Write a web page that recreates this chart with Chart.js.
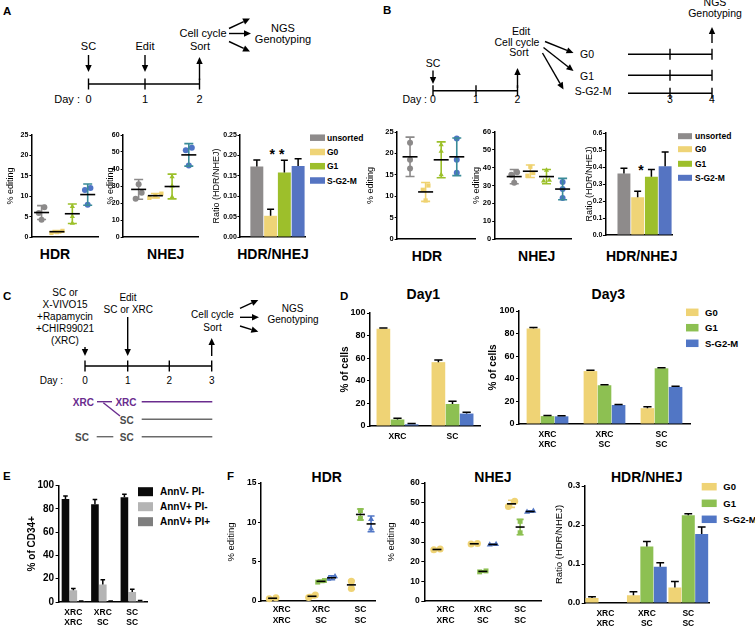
<!DOCTYPE html>
<html><head><meta charset="utf-8">
<script src="https://cdn.jsdelivr.net/npm/chart.js"></script>
<style>
html,body{margin:0;padding:0;background:#fff;}
#fig{position:relative;width:755px;height:627px;overflow:hidden;background:#fff;}
canvas{position:absolute;}
</style></head>
<body><div id="fig"><svg id="sch" width="755" height="627" style="position:absolute;left:0;top:0"></svg></div>
<script>
// ================= DATA =================
const abGroups = ['unsorted', 'G0', 'G1', 'S-G2-M'];
// Panel A (Day 2 sort)
const aHdrPoints = [[7.3, 5.9, 4.2], [1.5, 1.2, 1.0], [7.5, 5.0, 3.4], [12.0, 11.5, 7.9]];
const aHdrMean = [6.0, 1.3, 5.7, 10.4];
const aHdrSd = [1.7, 0.3, 2.4, 2.6];
const aNhejPoints = [[31.0, 26.0, 22.5], [25.5, 24.0, 23.0], [35.5, 30.0, 23.5], [52.5, 51.0, 42.0]];
const aNhejMean = [28.0, 24.3, 29.7, 48.3];
const aNhejSd = [5.8, 1.3, 7.3, 6.6];
const aRatio = [0.173, 0.052, 0.158, 0.174];
const aRatioSd = [0.016, 0.016, 0.030, 0.018];
// Panel B (sort then edit)
const bHdrPoints = [[22.5, 18.5, 16.5], [12.5, 11.5, 9.0], [22.0, 20.5, 15.0], [23.5, 18.5, 15.5]];
const bHdrMean = [19.2, 11.0, 18.5, 19.2];
const bHdrSd = [4.6, 2.2, 4.2, 4.4];
const bNhejPoints = [[37.5, 36.0, 31.5], [40.5, 37.0, 35.5], [38.5, 33.0, 32.5], [32.0, 28.0, 23.0]];
const bNhejMean = [35.0, 38.0, 35.0, 28.0];
const bNhejSd = [4.0, 3.5, 4.0, 6.0];
const bRatio = [0.362, 0.222, 0.343, 0.405];
const bRatioSd = [0.031, 0.036, 0.042, 0.083];
// Panel D
const phases = ['G0', 'G1', 'S-G2-M'];
const dDay1Cats = ['XRC', 'SC'];
const dDay1G0 = [86.0, 56.5], dDay1G0Sd = [0.8, 2.0];
const dDay1G1 = [5.8, 19.5], dDay1G1Sd = [1.0, 2.5];
const dDay1S = [1.5, 11.0], dDay1SSd = [0.7, 1.2];
const dDay3Cats = [['XRC', 'XRC'], ['XRC', 'SC'], ['SC', 'SC']];
const dDay3G0 = [84.5, 46.8, 14.0], dDay3G0Sd = [1.0, 0.7, 1.2];
const dDay3G1 = [7.0, 34.3, 49.3], dDay3G1Sd = [0.5, 0.5, 0.5];
const dDay3S = [6.8, 16.8, 32.8], dDay3SSd = [0.5, 0.5, 0.7];
// Panel E
const eCats = [['XRC', 'XRC'], ['XRC', 'SC'], ['SC', 'SC']];
const eSeries = ['AnnV- PI-', 'AnnV+ PI-', 'AnnV+ PI+'];
const eLive = [88.5, 84.0, 90.0], eLiveSd = [2.5, 4.0, 2.5];
const eEarly = [10.0, 15.0, 8.5], eEarlySd = [1.5, 4.0, 2.5];
const eLate = [0.6, 0.5, 0.8], eLateSd = [0.3, 0.3, 0.4];
// Panel F
const fCats = [['XRC', 'XRC'], ['XRC', 'SC'], ['SC', 'SC']];
const fHdrG0Pts = [[0.3, 0.4], [0.45, 0.75], [1.6, 2.5]];
const fHdrG1Pts = [[], [2.4, 2.6], [11.5, 10.5]];
const fHdrSPts = [[], [2.8, 3.1], [10.4, 9.2]];
const fHdrG0Mean = [0.35, 0.6, 2.05], fHdrG0Sd = [0.07, 0.22, 0.55];
const fHdrG1Mean = [null, 2.5, 11.0], fHdrG1Sd = [null, 0.15, 0.7];
const fHdrSMean = [null, 2.95, 9.8], fHdrSSd = [null, 0.25, 1.0];
const fNhejG0Pts = [[26.0, 26.5], [29.0, 29.2], [50.7, 48.1]];
const fNhejG1Pts = [[], [14.8, 15.3], [40.5, 34.7]];
const fNhejSPts = [[], [28.6, 28.9], [45.2, 45.8]];
const fNhejG0Mean = [26.2, 29.1, 49.4], fNhejG0Sd = [0.35, 0.2, 1.8];
const fNhejG1Mean = [null, 15.05, 37.6], fNhejG1Sd = [null, 0.35, 3.9];
const fNhejSMean = [null, 28.75, 45.5], fNhejSSd = [null, 0.2, 0.4];
const fRatioG0 = [0.013, 0.020, 0.040], fRatioG0Sd = [0.003, 0.009, 0.015];
const fRatioG1 = [null, 0.145, 0.225], fRatioG1Sd = [null, 0.013, 0.004];
const fRatioS = [null, 0.093, 0.177], fRatioSSd = [null, 0.010, 0.018];

// ================= STYLE =================
const FONT = "'Liberation Sans', Arial, Helvetica, sans-serif";
Chart.defaults.font.family = FONT;
Chart.defaults.color = '#000';
const abPointColors = ['#8c8a8a', '#efd270', '#9cc02a', '#4f74c6'];
const abErrColors = ['#8c8a8a', '#efd270', '#9cc02a', '#3a8b98'];
const abPointStyles = ['circle', 'rect', 'triangle', 'circle'];
const abBarColors = ['#8e8b8b', '#efd477', '#9dbf2b', '#5574c2'];
const phaseColors = ['#efd375', '#8dc052', '#5176c5'];
const fPointStyles = ['circle', 'rect', 'triangle'];
const eColors = ['#0a0a0a', '#b4b4b4', '#7e7e7e'];

const fig = document.getElementById('fig');

function canvasFor(box, titleSize) {
  box.yw = box.l - box.tx + 0.6 * titleSize;
  const W = Math.round(box.r - box.l + box.yw + box.pr);
  const H = Math.round(box.b - box.t + box.pt + box.xh);
  const c = document.createElement('canvas');
  c.width = W; c.height = H;
  c.style.left = (box.l - box.yw) + 'px';
  c.style.top = (box.t - box.pt) + 'px';
  c.style.width = W + 'px'; c.style.height = H + 'px';
  fig.appendChild(c);
  return c;
}

function yScale(box, o) {
  return {
    min: 0, max: o.ymax,
    ticks: { stepSize: o.ystep, font: { size: o.tickSize, weight: 'bold' }, color: '#000', padding: o.tickPad != null ? o.tickPad : 1.5,
      callback: v => (o.dec != null ? Number(v).toFixed(o.dec) : v) },
    grid: { display: true, drawOnChartArea: false, drawTicks: true, tickLength: o.tickLen || 3, color: '#000', lineWidth: 1 },
    border: { display: true, color: '#000', width: 1.5 },
    title: { display: true, text: o.ytitle, font: { size: o.titleSize, weight: o.titleWeight || 'normal' }, color: '#000', padding: 0 },
    afterFit: s => { s.width = box.yw; }
  };
}

function catXScale(box, labels, o) {
  return {
    type: 'category', labels, offset: true,
    grid: { display: false, drawTicks: false },
    border: { display: true, color: '#000', width: 1.5 },
    ticks: { font: { size: o.catSize || 8, weight: 'bold', lineHeight: 1.25 }, color: '#000', padding: o.catPad || 4, maxRotation: 0, autoSkip: false },
    afterFit: s => { s.height = box.xh; }
  };
}

function linXScale(box, o) {
  const sc = {
    type: 'linear', min: o.xmin, max: o.xmax, offset: false,
    grid: { display: false, drawTicks: false },
    border: { display: true, color: '#000', width: 1.5 },
    ticks: { display: false },
    afterFit: s => { s.height = box.xh; }
  };
  if (o.xLabels) {
    sc.ticks = { display: true, font: { size: 8.5, weight: 'bold', lineHeight: 1.2 }, color: '#000', padding: 4, maxRotation: 0, autoSkip: false,
      callback: v => o.xLabels[Math.round(v) - 1] };
    sc.afterBuildTicks = s => { s.ticks = o.xLabels.map((_, i) => ({ value: i + 1 })); };
  }
  return sc;
}

function baseOptions(box, xs, ys) {
  return {
    responsive: false, animation: false, devicePixelRatio: 1, events: [],
    layout: { padding: { top: box.pt, right: box.pr, left: 0, bottom: 0 } },
    plugins: { legend: { display: false }, tooltip: { enabled: false }, title: { display: false } },
    scales: { x: xs, y: ys }
  };
}

// horizontal spreading of replicate points that would overlap (beeswarm-like)
function spread(vals, thresh, dx) {
  const off = vals.map(() => 0);
  if (!vals.length) return off;
  const idx = vals.map((v, i) => i).sort((a, b) => vals[a] - vals[b]);
  let cl = [idx[0]];
  const flush = () => cl.forEach((id, j) => { off[id] = (j - (cl.length - 1) / 2) * dx; });
  for (let k = 1; k < idx.length; k++) {
    if (vals[idx[k]] - vals[idx[k - 1]] < thresh) cl.push(idx[k]);
    else { flush(); cl = [idx[k]]; }
  }
  flush();
  return off;
}

function statsPlugin(stats, o) {
  return {
    id: 'stats',
    afterDatasetsDraw(chart) {
      const { ctx, scales: { x, y } } = chart;
      ctx.save();
      ctx.lineWidth = 1.6;
      stats.forEach(g => {
        const px = x.getPixelForValue(g.x);
        const lo = y.getPixelForValue(g.mean - g.sd), hi = y.getPixelForValue(g.mean + g.sd);
        const m = y.getPixelForValue(g.mean);
        ctx.strokeStyle = g.err;
        ctx.beginPath();
        ctx.moveTo(px, lo); ctx.lineTo(px, hi);
        ctx.moveTo(px - o.cap, lo); ctx.lineTo(px + o.cap, lo);
        ctx.moveTo(px - o.cap, hi); ctx.lineTo(px + o.cap, hi);
        ctx.stroke();
        ctx.strokeStyle = '#000';
        ctx.beginPath(); ctx.moveTo(px - o.mw, m); ctx.lineTo(px + o.mw, m); ctx.stroke();
      });
      ctx.restore();
    }
  };
}

function barErrPlugin(capFrac) {
  return {
    id: 'barerr',
    afterDatasetsDraw(chart) {
      const { ctx, scales: { y } } = chart;
      ctx.save();
      ctx.lineWidth = 1.5; ctx.strokeStyle = '#000';
      chart.data.datasets.forEach((ds, di) => {
        const meta = chart.getDatasetMeta(di);
        meta.data.forEach((bar, i) => {
          const raw = ds.data[i];
          const v = (raw && typeof raw === 'object') ? raw.y : raw;
          const sd = ds.sd ? ds.sd[i] : null;
          if (v == null || sd == null) return;
          const top = y.getPixelForValue(v + sd);
          const cap = bar.width * capFrac;
          ctx.beginPath();
          ctx.moveTo(bar.x, bar.y); ctx.lineTo(bar.x, top);
          ctx.moveTo(bar.x - cap, top); ctx.lineTo(bar.x + cap, top);
          ctx.stroke();
        });
      });
      ctx.restore();
    }
  };
}

function makeScatter(box, o) {
  const c = canvasFor(box, o.titleSize);
  const thresh = o.sepPx * o.ymax / (box.b - box.t);
  const stats = [];
  const datasets = o.series.map(s => {
    const data = [];
    s.groups.forEach(g => {
      const off = spread(g.pts, thresh, o.dx);
      g.pts.forEach((v, k) => data.push({ x: g.x + off[k], y: v }));
      if (g.mean != null) stats.push({ x: g.x, mean: g.mean, sd: g.sd, err: s.err });
    });
    return { label: s.label, data, pointStyle: s.style, pointRadius: o.radius, pointBackgroundColor: s.color,
      pointBorderColor: s.color, pointBorderWidth: 0, showLine: false, clip: false };
  });
  return new Chart(c, {
    type: 'scatter', data: { datasets },
    options: baseOptions(box, linXScale(box, o), yScale(box, o)),
    plugins: [statsPlugin(stats, o)]
  });
}

function makeBars(box, o, xs, datasets) {
  const c = canvasFor(box, o.titleSize);
  return new Chart(c, {
    type: 'bar', data: { datasets, labels: o.labels },
    options: baseOptions(box, xs, yScale(box, o)),
    plugins: [barErrPlugin(o.capFrac || 0.28)]
  });
}

// ================= SVG (schematics, titles, legends) =================
const NS = 'http://www.w3.org/2000/svg';
const svg = document.getElementById('sch');
function el(tag, attrs, text) {
  const e = document.createElementNS(NS, tag);
  for (const k in attrs) e.setAttribute(k, attrs[k]);
  if (text != null) e.textContent = text;
  svg.appendChild(e); return e;
}
function txt(x, y, s, o = {}) {
  return el('text', { x, y, 'font-size': o.size || 10, 'font-weight': o.weight || 'normal',
    'text-anchor': o.anchor || 'middle', fill: o.fill || '#000', 'font-family': FONT }, s);
}
function line(x1, y1, x2, y2, o = {}) {
  el('line', { x1, y1, x2, y2, stroke: o.c || '#000', 'stroke-width': o.w || 1.4 });
}
function arrow(x1, y1, x2, y2, o = {}) {
  const L = o.L || 7, hw = o.hw || 3.2;
  const dx = x2 - x1, dy = y2 - y1, d = Math.hypot(dx, dy), ux = dx / d, uy = dy / d;
  const bx = x2 - ux * L, by = y2 - uy * L;
  line(x1, y1, bx, by, o);
  el('polygon', { points: `${x2},${y2} ${bx - uy * hw},${by + ux * hw} ${bx + uy * hw},${by - ux * hw}`, fill: o.c || '#000' });
}
function timeline(x0, x1, y, ticks) {
  line(x0, y, x1, y, { w: 1.6 });
  ticks.forEach(t => line(t, y - 5.5, t, y + 5.5, { w: 1.4 }));
}
function legend(x, ys, names, colors, o) {
  names.forEach((n, i) => {
    el('rect', { x, y: ys[i] - o.h / 2, width: o.w, height: o.h, fill: colors[i] });
    txt(x + o.tx, ys[i] + 0.36 * o.size, n, { size: o.size, weight: 'bold', anchor: 'start' });
  });
}

// panel letters
[['A', 3, 15], ['B', 383, 13.5], ['C', 3, 300], ['D', 340, 300], ['E', 3, 479.5], ['F', 227, 479.5]]
  .forEach(([s, x, y]) => txt(x, y, s, { size: 11.5, weight: 'bold', anchor: 'start' }));

// --- A schematic
{
  const S = { size: 11 };
  timeline(88.5, 199.5, 84, [88.5, 145, 199.5]);
  txt(80, 103, 'Day :', { size: 11, anchor: 'end' });
  txt(88.5, 103, '0', S); txt(145, 103, '1', S); txt(199.5, 103, '2', S);
  txt(88.5, 49.5, 'SC', S); arrow(88.5, 55, 88.5, 72);
  txt(145, 49.5, 'Edit', S); arrow(145, 55, 145, 72);
  txt(203, 37, 'Cell cycle', S); txt(200, 49.5, 'Sort', S); arrow(199.5, 80, 199.5, 57);
  arrow(229, 28.5, 250, 18.5); arrow(229, 33.5, 251, 33.5); arrow(229, 41.5, 250, 51.5);
  txt(283, 31.5, 'NGS', S); txt(283, 42.5, 'Genotyping', S);
}
// --- B schematic
{
  const S = { size: 10.5 };
  timeline(433, 517.5, 90.7, [433, 476, 517.5]);
  txt(427, 102.7, 'Day :', { size: 10.5, anchor: 'end' });
  txt(433, 102.7, '0', S); txt(476, 102.7, '1', S); txt(517.5, 102.7, '2', S);
  txt(433, 67, 'SC', S); arrow(433, 70.5, 433, 84);
  txt(521, 35, 'Edit', S); txt(517, 45.5, 'Cell cycle', S); txt(519, 56.3, 'Sort', S);
  arrow(517.5, 88, 517.5, 68);
  arrow(545, 41.5, 573.5, 53); arrow(543.5, 47.5, 573.5, 71); arrow(542.5, 53, 563.5, 89.5);
  txt(587, 58.3, 'G0', S); txt(587, 80, 'G1', S); txt(593, 95, 'S-G2-M', S);
  [54.3, 75.3, 93.3].forEach(y => { line(628, y, 712, y, { w: 1.6 }); line(670, y - 5.5, 670, y + 5.5); line(712, y - 5.5, 712, y + 5.5); });
  txt(670, 102.7, '3', S); txt(712, 102.7, '4', S);
  txt(715, 5.5, 'NGS', S); txt(715, 17, 'Genotyping', S); arrow(712, 43, 712, 27);
}
// --- C schematic
{
  const S = { size: 10 };
  txt(65, 296, 'SC or', S); txt(65, 308.3, 'X-VIVO15', S); txt(65, 319.8, '+Rapamycin', S);
  txt(65, 332.3, '+CHIR99021', S); txt(65, 344.3, '(XRC)', S);
  arrow(85, 347, 85, 356);
  txt(128, 300.7, 'Edit', S); txt(128.3, 313.3, 'SC or XRC', S); arrow(127.7, 317, 127.7, 356);
  timeline(85, 211.7, 366, [85, 127.7, 169.3, 211.7]);
  txt(63, 384, 'Day :', { size: 10, anchor: 'end' });
  txt(85, 384, '0', S); txt(127.7, 384, '1', S); txt(169.3, 384, '2', S); txt(211.7, 384, '3', S);
  txt(212.5, 317.7, 'Cell cycle', S); txt(212.5, 330.7, 'Sort', S); arrow(211.7, 356, 211.7, 338);
  arrow(240, 308.3, 258.3, 300); arrow(240, 317.3, 259, 317.3); arrow(240, 326, 258.3, 331.7);
  txt(292.5, 311.7, 'NGS', S); txt(293, 322.5, 'Genotyping', S);
  const P = '#6a2c8e', G = '#4a4a4a', GL = '#6a6a6a';
  txt(83.3, 406, 'XRC', { size: 10, weight: 'bold', fill: P });
  line(97, 401.7, 112, 401.7, { c: P }); line(103.3, 402.7, 120, 416, { c: P });
  txt(126, 406, 'XRC', { size: 10, weight: 'bold', fill: P });
  line(141.7, 401.7, 212.3, 401.7, { c: P });
  txt(126.7, 424, 'SC', { size: 10, weight: 'bold', fill: G });
  line(141.7, 419.3, 212.3, 419.3, { c: GL });
  txt(82, 440.7, 'SC', { size: 10, weight: 'bold', fill: G });
  line(96.7, 436.7, 113.3, 436.7, { c: GL });
  txt(126.7, 440.7, 'SC', { size: 10, weight: 'bold', fill: G });
  line(141.7, 436.7, 212.3, 436.7, { c: GL });
}

// chart titles
const T = { size: 14, weight: 'bold' };
txt(55, 258.5, 'HDR', T); txt(165.7, 258.5, 'NHEJ', T); txt(273, 258.5, 'HDR/NHEJ', T);
txt(427, 260.5, 'HDR', T); txt(536.7, 260.5, 'NHEJ', T); txt(641.7, 260.5, 'HDR/NHEJ', T);
txt(423.3, 299, 'Day1', T); txt(608.3, 299, 'Day3', T);
txt(326.7, 482, 'HDR', T); txt(493, 482, 'NHEJ', T); txt(646.7, 482, 'HDR/NHEJ', T);
// significance marks
txt(277, 158.5, '* *', { size: 14, weight: 'bold' });
txt(641, 175, '*', { size: 14, weight: 'bold' });

// legends
legend(310, [137.7, 152, 166.2, 180.5], abGroups, abBarColors, { w: 15, h: 6.5, tx: 17, size: 8.5 });
legend(678, [136.2, 149.2, 163.8, 177.8], abGroups, abBarColors, { w: 14, h: 6, tx: 17, size: 8.5 });
legend(686, [312.3, 327.7, 343.3], phases, phaseColors, { w: 12.5, h: 7.5, tx: 19, size: 9.5 });
legend(138, [491.7, 506.7, 521.7], eSeries, eColors, { w: 15, h: 9, tx: 22, size: 10 });
legend(701.7, [486.7, 503.3, 519.3], phases, phaseColors, { w: 15, h: 7.5, tx: 21.6, size: 9.5 });

// ================= CHARTS =================
function abSeries(points, mean, sd) {
  return abGroups.map((g, i) => ({
    label: g, style: abPointStyles[i], color: abPointColors[i], err: abErrColors[i],
    groups: [{ x: i + 1, pts: points[i], mean: mean[i], sd: sd[i] }]
  }));
}
const abScatterStyle = { radius: 3, dx: 0.36, sepPx: 6, cap: 4.5, mw: 7.5, tickSize: 7, tickPad: 1, tickLen: 2.5, titleSize: 9 };

// A
makeScatter({ l: 31.5, t: 135, r: 100, b: 237, tx: 10, pt: 7, pr: 2, xh: 8 },
  Object.assign({}, abScatterStyle, { ymax: 25, ystep: 5, ytitle: '% editing', xmin: 0.37, xmax: 4.67,
    series: abSeries(aHdrPoints, aHdrMean, aHdrSd) }));
makeScatter({ l: 122.7, t: 135, r: 200, b: 237, tx: 110, pt: 7, pr: 2, xh: 8 },
  Object.assign({}, abScatterStyle, { ymax: 60, ystep: 10, ytitle: '% editing', xmin: 0.07, xmax: 4.55,
    series: abSeries(aNhejPoints, aNhejMean, aNhejSd) }));
{
  const box = { l: 240, t: 135, r: 305, b: 237, tx: 216.5, pt: 7, pr: 2, xh: 8 };
  const o = { ymax: 0.25, ystep: 0.05, dec: 2, ytitle: 'Ratio (HDR/NHEJ)', tickSize: 7, tickPad: 0.5, tickLen: 2.5, titleSize: 9, capFrac: 0.27 };
  makeBars(box, o, linXScale(box, { xmin: -0.23, xmax: 4.5 }), [{
    data: aRatio.map((v, i) => ({ x: i + 1, y: v })), sd: aRatioSd, backgroundColor: abBarColors,
    barPercentage: 0.94, categoryPercentage: 1
  }]);
}
// B
makeScatter({ l: 396.7, t: 131.7, r: 476.7, b: 238.3, tx: 370, pt: 7, pr: 2, xh: 8 },
  Object.assign({}, abScatterStyle, { tickSize: 7.5, ymax: 25, ystep: 5, ytitle: '% editing', xmin: 0.17, xmax: 5.17,
    series: abSeries(bHdrPoints, bHdrMean, bHdrSd) }));
makeScatter({ l: 495, t: 131.7, r: 573, b: 238.3, tx: 476.7, pt: 7, pr: 2, xh: 8 },
  Object.assign({}, abScatterStyle, { tickSize: 7.5, ymax: 60, ystep: 10, ytitle: '% editing', xmin: -0.21, xmax: 4.52,
    series: abSeries(bNhejPoints, bNhejMean, bNhejSd) }));
{
  const box = { l: 605, t: 133.3, r: 672, b: 235, tx: 589, pt: 7, pr: 2, xh: 8 };
  const o = { ymax: 0.6, ystep: 0.1, dec: 1, ytitle: 'Ratio (HDR/NHEJ)', tickSize: 7, tickPad: 0.5, tickLen: 2.5, titleSize: 9, capFrac: 0.27 };
  makeBars(box, o, linXScale(box, { xmin: -0.35, xmax: 4.5 }), [{
    data: bRatio.map((v, i) => ({ x: i + 1, y: v })), sd: bRatioSd, backgroundColor: abBarColors,
    barPercentage: 0.94, categoryPercentage: 1
  }]);
}
// D
function phaseSets(vals, sds, cp) {
  return phases.map((p, i) => ({ label: p, data: vals[i], sd: sds[i], backgroundColor: phaseColors[i],
    barPercentage: 0.97, categoryPercentage: cp }));
}
{
  const box = { l: 370, t: 313.3, r: 480, b: 426.7, tx: 345, pt: 7, pr: 2, xh: 30 };
  const o = { ymax: 100, ystep: 20, ytitle: '% of cells', tickSize: 9, titleSize: 10, titleWeight: 'bold', capFrac: 0.3 };
  makeBars(box, o, catXScale(box, dDay1Cats, { catSize: 8.5, catPad: 5 }),
    phaseSets([dDay1G0, dDay1G1, dDay1S], [dDay1G0Sd, dDay1G1Sd, dDay1SSd], 0.77));
}
{
  const box = { l: 519.3, t: 311, r: 690, b: 424.3, tx: 493.3, pt: 7, pr: 2, xh: 30 };
  const o = { ymax: 100, ystep: 20, ytitle: '% of cells', tickSize: 9, titleSize: 10, titleWeight: 'bold', capFrac: 0.3 };
  makeBars(box, o, catXScale(box, dDay3Cats, { catSize: 8.5, catPad: 5 }),
    phaseSets([dDay3G0, dDay3G1, dDay3S], [dDay3G0Sd, dDay3G1Sd, dDay3SSd], 0.74));
}
// E
{
  const box = { l: 58.3, t: 485, r: 147, b: 602.3, tx: 31.7, pt: 7, pr: 2, xh: 25 };
  const o = { ymax: 100, ystep: 20, ytitle: '% of CD34+', tickSize: 10, titleSize: 10, titleWeight: 'bold', capFrac: 0.3 };
  const vals = [eLive, eEarly, eLate], sds = [eLiveSd, eEarlySd, eLateSd];
  makeBars(box, o, catXScale(box, eCats, { catSize: 8.5, catPad: 5 }),
    eSeries.map((s, i) => ({ label: s, data: vals[i], sd: sds[i], backgroundColor: eColors[i], barPercentage: 0.97, categoryPercentage: 0.8 })));
}
// F
const fOffsets = [-0.23, 0, 0.27];
function fSeries(pts, means, sds) {
  return phases.map((p, i) => ({
    label: p, style: fPointStyles[i], color: phaseColors[i], err: phaseColors[i],
    groups: fCats.map((_, c) => ({ x: c + 1 + fOffsets[i], pts: pts[i][c], mean: means[i][c], sd: sds[i][c] }))
  }));
}
const fScatterStyle = { radius: 3.5, dx: 0.17, sepPx: 7, cap: 3.5, mw: 4.5, tickSize: 8.5, titleSize: 9.5, xLabels: fCats };
makeScatter({ l: 261, t: 483.3, r: 376.7, b: 601, tx: 231.7, pt: 7, pr: 2, xh: 25 },
  Object.assign({}, fScatterStyle, { ymax: 15, ystep: 5, ytitle: '% editing', xmin: 0.475, xmax: 3.37,
    series: fSeries([fHdrG0Pts, fHdrG1Pts, fHdrSPts], [fHdrG0Mean, fHdrG1Mean, fHdrSMean], [fHdrG0Sd, fHdrG1Sd, fHdrSSd]) }));
makeScatter({ l: 424.3, t: 483.3, r: 543.3, b: 601.7, tx: 391.7, pt: 7, pr: 2, xh: 25 },
  Object.assign({}, fScatterStyle, { ymax: 60, ystep: 10, ytitle: '% editing', xmin: 0.43, xmax: 3.56,
    series: fSeries([fNhejG0Pts, fNhejG1Pts, fNhejSPts], [fNhejG0Mean, fNhejG1Mean, fNhejSMean], [fNhejG0Sd, fNhejG1Sd, fNhejSSd]) }));
{
  const box = { l: 585, t: 486, r: 709, b: 602.7, tx: 560, pt: 7, pr: 2, xh: 25 };
  const o = { ymax: 0.3, ystep: 0.1, dec: 1, ytitle: 'Ratio (HDR/NHEJ)', tickSize: 9, titleSize: 9.5, capFrac: 0.3 };
  makeBars(box, o, catXScale(box, fCats, { catSize: 8.5, catPad: 5 }),
    phaseSets([fRatioG0, fRatioG1, fRatioS], [fRatioG0Sd, fRatioG1Sd, fRatioSSd], 0.97));
}
</script></body></html>
